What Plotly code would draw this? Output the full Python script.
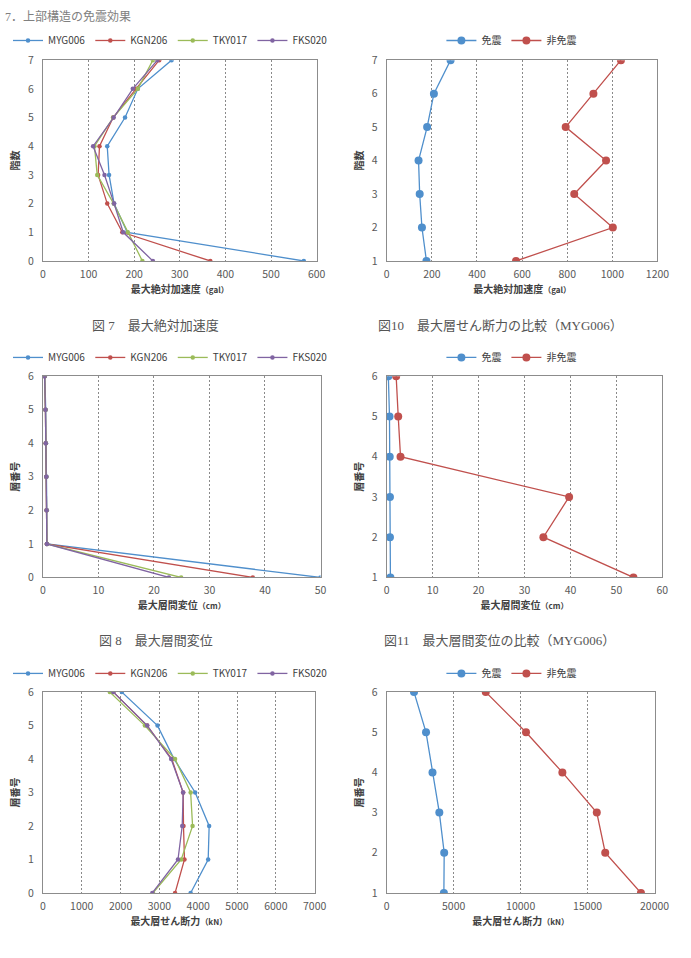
import plotly.graph_objects as go

# ---------------- data ----------------
series_names = ["MYG006", "KGN206", "TKY017", "FKS020"]
compare_names = ["免震", "非免震"]

floors_acc = [0, 1, 2, 3, 4, 5, 6, 7]
acc_MYG006 = [572, 185, 156, 145, 141, 180, 208, 282]
acc_KGN206 = [367, 174, 141, 121, 124, 154, 204, 255]
acc_TKY017 = [218, 186, 155, 119, 113, 154, 208, 241]
acc_FKS020 = [241, 176, 156, 135, 110, 155, 197, 251]

floors_acc_cmp = [1, 2, 3, 4, 5, 6, 7]
acc_iso = [176, 156, 146, 141, 179, 209, 283]
acc_non = [573, 1002, 831, 972, 793, 916, 1038]

floors_story = [0, 1, 2, 3, 4, 5, 6]
drift_MYG006 = [50.0, 0.75, 0.7, 0.65, 0.55, 0.5, 0.35]
drift_KGN206 = [37.8, 0.7, 0.65, 0.6, 0.5, 0.45, 0.3]
drift_TKY017 = [24.9, 0.7, 0.65, 0.6, 0.5, 0.45, 0.3]
drift_FKS020 = [22.7, 0.7, 0.65, 0.6, 0.5, 0.45, 0.3]

floors_cmp = [1, 2, 3, 4, 5, 6]
drift_iso = [0.8, 0.7, 0.7, 0.65, 0.6, 0.35]
drift_non = [53.7, 34.1, 39.7, 3.0, 2.5, 2.05]

shear_MYG006 = [3805, 4257, 4282, 3922, 3380, 2952, 2032]
shear_KGN206 = [3404, 3646, 3621, 3613, 3320, 2685, 1815]
shear_TKY017 = [2835, 3563, 3855, 3805, 3404, 2626, 1723]
shear_FKS020 = [2818, 3479, 3588, 3613, 3303, 2685, 1815]

shear_iso = [4267, 4291, 3927, 3418, 2933, 2036]
shear_non = [18982, 16315, 15685, 13115, 10400, 7394]

header_text = "7．上部構造の免震効果"
captions = ["図 7　最大絶対加速度", "図10　最大層せん断力の比較（MYG006）",
            "図 8　最大層間変位", "図11　最大層間変位の比較（MYG006）"]

# ---------------- style ----------------
W, H = 691, 958
colors4 = ["#4F8FCC", "#C0504D", "#9BBB59", "#8064A2"]
colors2 = ["#4F8FCC", "#C0504D"]
FONT = "Noto Sans CJK JP, Noto Sans, sans-serif"
SERIF = "Liberation Serif, Noto Sans CJK JP, serif"
TXT = "#404040"

# plot area boxes in pixels: (left, right, top, bottom)
boxes = [
    (41, 322, 53, 257),
    (394, 672, 53, 257),
    (41, 326, 374, 578.5),
    (394, 677, 374, 578.5),
    (41, 320, 695, 899),
    (394, 669, 695, 899),
]

def xd(px):
    return px / W

def yd(py):
    return 1 - py / H

fig = go.Figure()

def add4(idx, xs_list, ys):
    for name, xs, c in zip(series_names, xs_list, colors4):
        fig.add_trace(go.Scatter(
            x=xs, y=ys, name=name, mode="lines+markers",
            line=dict(color=c, width=1.3), marker=dict(color=c, size=4.5),
            xaxis="x" if idx == 1 else f"x{idx}", yaxis="y" if idx == 1 else f"y{idx}",
            legend="legend" if idx == 1 else f"legend{idx}",
        ))

def add2(idx, xs_list, ys):
    for name, xs, c in zip(compare_names, xs_list, colors2):
        fig.add_trace(go.Scatter(
            x=xs, y=ys, name=name, mode="lines+markers",
            line=dict(color=c, width=1.3), marker=dict(color=c, size=8),
            xaxis=f"x{idx}", yaxis=f"y{idx}", legend=f"legend{idx}",
        ))

add4(1, [acc_MYG006, acc_KGN206, acc_TKY017, acc_FKS020], floors_acc)
add2(2, [acc_iso, acc_non], floors_acc_cmp)
add4(3, [drift_MYG006, drift_KGN206, drift_TKY017, drift_FKS020], floors_story)
add2(4, [drift_iso, drift_non], floors_cmp)
add4(5, [shear_MYG006, shear_KGN206, shear_TKY017, shear_FKS020], floors_story)
add2(6, [shear_iso, shear_non], floors_cmp)

x_cfg = [
    (0, 600, 100, "最大絶対加速度<span style='font-size:8px'>（gal）</span>"),
    (0, 1200, 200, "最大絶対加速度<span style='font-size:8px'>（gal）</span>"),
    (0, 50, 10, "最大層間変位<span style='font-size:8px'>（cm）</span>"),
    (0, 60, 10, "最大層間変位<span style='font-size:8px'>（cm）</span>"),
    (0, 7000, 1000, "最大層せん断力<span style='font-size:8px'>（kN）</span>"),
    (0, 20000, 5000, "最大層せん断力<span style='font-size:8px'>（kN）</span>"),
]
y_cfg = [
    (0, 7, "階数"), (1, 7, "階数"),
    (0, 6, "層番号"), (1, 6, "層番号"),
    (0, 6, "層番号"), (1, 6, "層番号"),
]
legend_y = [33, 33, 355, 355, 676, 676]
legend_x = [172, 522, 172, 522, 172, 522]

layout = dict(
    width=W, height=H, margin=dict(l=0, r=0, t=0, b=0),
    paper_bgcolor="white", plot_bgcolor="white",
    font=dict(family=FONT, color=TXT, size=10),
    annotations=[],
)

for i in range(6):
    l, r, t, b = boxes[i]
    k = "" if i == 0 else str(i + 1)
    x0, x1, dt, xt = x_cfg[i]
    y0, y1, yt = y_cfg[i]
    layout[f"xaxis{k}"] = dict(
        domain=[xd(l), xd(r)], range=[x0, x1], dtick=dt, tick0=0, tickformat="d",
        anchor=f"y{k}", showgrid=True, gridcolor="#8a8a8a", griddash="2px,2px",
        gridwidth=1, showline=True, linecolor="#8c8c8c", linewidth=1.2, mirror=True,
        zeroline=False, ticks="outside", ticklen=3, tickcolor="rgba(0,0,0,0)",
        tickfont=dict(size=10.5, color="#595959"),
        title=dict(text=f"<b>{xt}</b>", font=dict(size=10, color=TXT), standoff=0),
    )
    layout[f"yaxis{k}"] = dict(
        domain=[yd(b), yd(t)], range=[y0, y1], dtick=1, anchor=f"x{k}",
        showgrid=False, showline=True, linecolor="#8c8c8c", linewidth=1.2, mirror=True,
        zeroline=False, ticks="outside", ticklen=6, tickcolor="rgba(0,0,0,0)",
        tickfont=dict(size=10.5, color="#595959"),
        title=dict(text=f"<b>{yt}</b>", font=dict(size=10, color=TXT), standoff=6),
    )
    lk = "legend" if i == 0 else f"legend{i + 1}"
    layout[lk] = dict(
        orientation="h", x=xd(legend_x[i]), y=yd(legend_y[i]),
        xanchor="center", yanchor="middle", bgcolor="rgba(0,0,0,0)",
        font=dict(size=10, color=TXT), itemwidth=30, tracegroupgap=0,
    )

layout["annotations"].append(dict(
    text=header_text, x=0, y=1, xref="paper", yref="paper",
    xanchor="left", yanchor="top", showarrow=False, yshift=1,
    font=dict(family=SERIF, size=12, color="#808080"),
))
cap_pos = [(157, 323), (511, 323), (157, 643), (510, 643)]
for txt, (cx, cy) in zip(captions, cap_pos):
    layout["annotations"].append(dict(
        text=txt, x=xd(cx), y=yd(cy), xref="paper", yref="paper",
        xanchor="center", yanchor="middle", showarrow=False,
        font=dict(family=SERIF, size=13, color="#555555"),
    ))

fig.update_layout(**layout)
fig.write_html("out.html")
